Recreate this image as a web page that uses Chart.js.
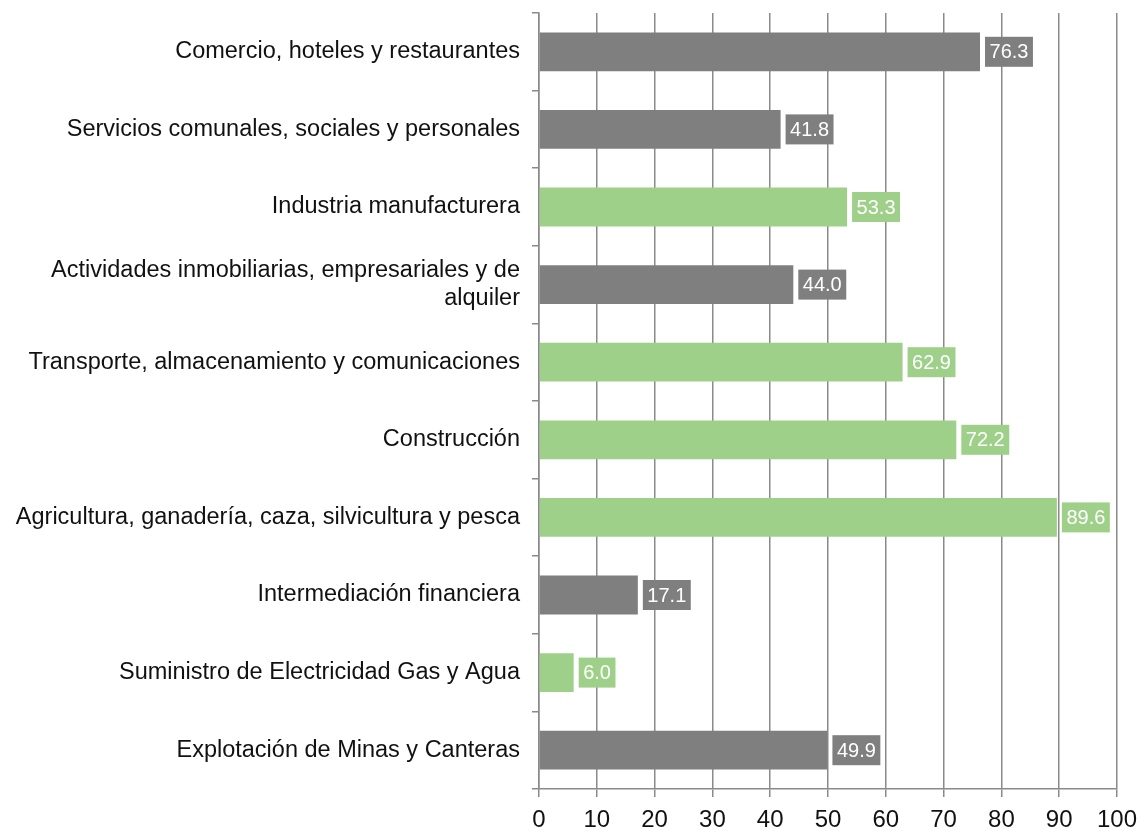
<!DOCTYPE html>
<html>
<head>
<meta charset="utf-8">
<script src="https://cdn.jsdelivr.net/npm/chart.js@4/dist/chart.umd.min.js"></script>
<style>
  html, body { margin: 0; padding: 0; background: #fff; }
  #wrap { width: 1142px; height: 831px; }
</style>
</head>
<body>
<div id="wrap"><canvas id="bars"></canvas></div>
<script>
var categories = [
  'Comercio, hoteles y restaurantes',
  'Servicios comunales, sociales y personales',
  'Industria manufacturera',
  ['Actividades inmobiliarias, empresariales y de', 'alquiler'],
  'Transporte, almacenamiento y comunicaciones',
  'Construcción',
  'Agricultura, ganadería, caza, silvicultura y pesca',
  'Intermediación financiera',
  'Suministro de Electricidad Gas y Agua',
  'Explotación de Minas y Canteras'
];
var values = [76.3, 41.8, 53.3, 44.0, 62.9, 72.2, 89.6, 17.1, 6.0, 49.9];
var highlighted = [false, false, true, false, true, true, true, false, true, false];
var xTicks = [0, 10, 20, 30, 40, 50, 60, 70, 80, 90, 100];

var gray = '#7f7f7f';
var green = '#9fd08a';
var barColors = highlighted.map(function (h) { return h ? green : gray; });

// value boxes drawn right of each bar
var valueBoxes = {
  id: 'valueBoxes',
  afterDatasetsDraw: function (chart) {
    var ctx = chart.ctx;
    var meta = chart.getDatasetMeta(0);
    ctx.save();
    ctx.font = '20px "Liberation Sans", Arial, sans-serif';
    ctx.textBaseline = 'middle';
    ctx.textAlign = 'left';
    meta.data.forEach(function (bar, i) {
      var txt = values[i].toFixed(1);
      var w = ctx.measureText(txt).width + 9;
      var h = 30;
      var x = bar.x + 5;
      ctx.fillStyle = barColors[i];
      ctx.fillRect(x, bar.y - h / 2, w, h);
      ctx.fillStyle = '#ffffff';
      ctx.fillText(txt, x + 4.5, bar.y + 1);
    });
    ctx.restore();
  }
};

var ctx = document.getElementById('bars').getContext('2d');
var barChart = new Chart(ctx, {
  type: 'bar',
  data: {
    labels: categories,
    datasets: [{
      data: values,
      backgroundColor: barColors,
      borderWidth: 0,
      categoryPercentage: 0.5,
      barPercentage: 1
    }]
  },
  options: {
    indexAxis: 'y',
    responsive: true,
    maintainAspectRatio: false,
    animation: false,
    layout: { padding: { top: 13, right: 25, left: 0, bottom: 0 } },
    plugins: {
      legend: { display: false },
      tooltip: { enabled: false }
    },
    scales: {
      x: {
        position: 'bottom',
        min: 0,
        max: 100,
        afterBuildTicks: function (axis) {
          axis.ticks = xTicks.map(function (v) { return { value: v }; });
        },
        afterFit: function (axis) {
          axis.height = 42;
          axis.paddingLeft = 0;
          axis.paddingRight = 0;
        },
        grid: {
          color: '#8a8a8a',
          lineWidth: 1.5,
          tickLength: 8,
          drawTicks: true
        },
        border: { color: '#8a8a8a', width: 1.5 },
        ticks: {
          color: '#111',
          padding: 9,
          font: { family: '"Liberation Sans", Arial, sans-serif', size: 24 }
        }
      },
      y: {
        afterFit: function (axis) {
          axis.width = 539;
          axis.paddingTop = 0;
          axis.paddingBottom = 0;
        },
        grid: {
          offset: true,
          drawOnChartArea: false,
          drawTicks: true,
          tickLength: 7,
          color: '#8a8a8a',
          lineWidth: 1.5
        },
        border: { color: '#8a8a8a', width: 1.5 },
        ticks: {
          color: '#111',
          padding: 12,
          font: { family: '"Liberation Sans", Arial, sans-serif', size: 23.5 }
        }
      }
    }
  },
  plugins: [valueBoxes]
});
</script>
</body>
</html>
